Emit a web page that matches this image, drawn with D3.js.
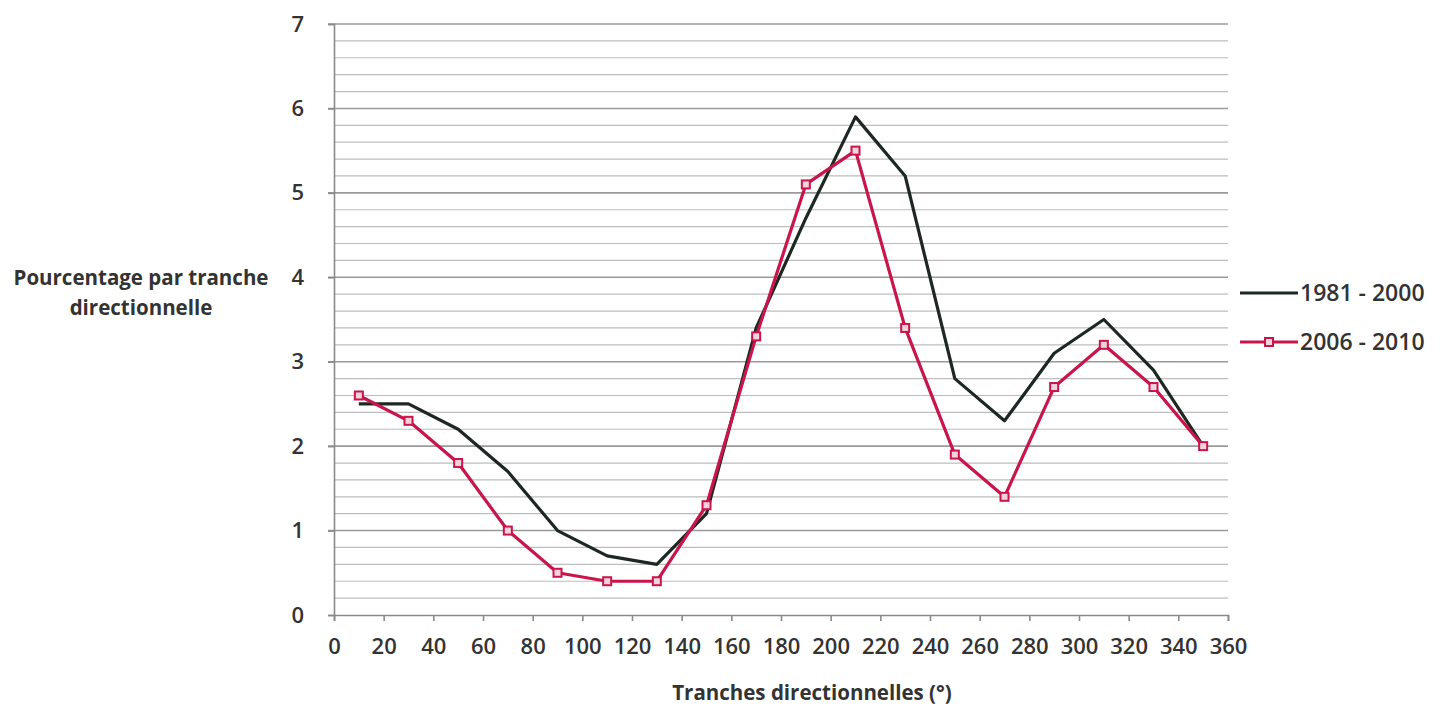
<!DOCTYPE html>
<html>
<head>
<meta charset="utf-8">
<script src="https://cdn.jsdelivr.net/npm/d3@7"></script>
<style>
  body { margin: 0; background: #fff; }
  text { font-family: "Open Sans", Lato, sans-serif; fill: #333; }
</style>
</head>
<body>
<div id="chart"></div>
<script>
// direction bins (degrees, bin centres)
var directions = [10, 30, 50, 70, 90, 110, 130, 150, 170, 190, 210, 230, 250, 270, 290, 310, 330, 350];
var period_a = [2.5, 2.5, 2.2, 1.7, 1.0, 0.7, 0.6, 1.2, 3.4, 4.7, 5.9, 5.2, 2.8, 2.3, 3.1, 3.5, 2.9, 2.0];
var period_b = [2.6, 2.3, 1.8, 1.0, 0.5, 0.4, 0.4, 1.3, 3.3, 5.1, 5.5, 3.4, 1.9, 1.4, 2.7, 3.2, 2.7, 2.0];
var series_names = ["1981 - 2000", "2006 - 2010"];
var x_ticks = d3.range(0, 361, 20);
var y_ticks = [0, 1, 2, 3, 4, 5, 6, 7];

var width = 1456, height = 706;
var margin = {left: 334, right: 228, top: 24, bottom: 91};

var svg = d3.select("#chart").append("svg")
    .attr("width", width)
    .attr("height", height);

var x = d3.scaleLinear().domain([0, 360]).range([margin.left, width - margin.right]);
var y = d3.scaleLinear().domain([0, 7]).range([height - margin.bottom, margin.top]);

// minor gridlines every 0.2
var minor = d3.range(0, 7.01, 0.2).filter(function (d) { return Math.abs(d - Math.round(d)) > 0.01; });
svg.append("g").selectAll("line")
    .data(minor)
    .enter().append("line")
    .attr("x1", x(0)).attr("x2", x(360))
    .attr("y1", function (d) { return y(d); })
    .attr("y2", function (d) { return y(d); })
    .attr("stroke", "#bdbdbd")
    .attr("stroke-width", 1.2);

// major gridlines
svg.append("g").selectAll("line")
    .data(y_ticks.slice(1))
    .enter().append("line")
    .attr("x1", x(0) - 6).attr("x2", x(360))
    .attr("y1", function (d) { return y(d); })
    .attr("y2", function (d) { return y(d); })
    .attr("stroke", "#9a9a9a")
    .attr("stroke-width", 1.6);

// y axis
var yAxis = d3.axisLeft(y).tickValues(y_ticks).tickFormat(d3.format("d")).tickSize(6).tickPadding(24);
var gy = svg.append("g")
    .attr("transform", "translate(" + x(0) + ",0)")
    .call(yAxis);
gy.select(".domain").attr("stroke", "#8a8a8a").attr("stroke-width", 1.6);
gy.selectAll(".tick line").attr("stroke", "#8a8a8a").attr("stroke-width", 1.6);
gy.selectAll("text").style("font-size", "22px").style("font-weight", "600").attr("fill", "#333");

// x axis
var xAxis = d3.axisBottom(x).tickValues(x_ticks).tickSize(6).tickPadding(17).tickSizeOuter(6);
var gx = svg.append("g")
    .attr("transform", "translate(0," + y(0) + ")")
    .call(xAxis);
gx.select(".domain").attr("stroke", "#8a8a8a").attr("stroke-width", 1.6);
gx.selectAll(".tick line").attr("stroke", "#8a8a8a").attr("stroke-width", 1.6);
gx.selectAll("text").style("font-size", "22px").style("font-weight", "600").attr("fill", "#333");

// axis titles
var ytitle = svg.append("text")
    .attr("text-anchor", "middle")
    .style("font-size", "20.5px")
    .style("font-weight", "bold");
ytitle.append("tspan").attr("x", 141).attr("y", 285).text("Pourcentage par tranche");
ytitle.append("tspan").attr("x", 141).attr("y", 315).text("directionnelle");

svg.append("text")
    .attr("x", 812).attr("y", 700)
    .attr("text-anchor", "middle")
    .style("font-size", "20.5px")
    .style("font-weight", "bold")
    .text("Tranches directionnelles (°)");

// lines
var line = d3.line()
    .x(function (d) { return x(d[0]); })
    .y(function (d) { return y(d[1]); });

var colors = ["#1e2822", "#c8154b"];

svg.append("path")
    .datum(d3.zip(directions, period_a))
    .attr("fill", "none")
    .attr("stroke", colors[0])
    .attr("stroke-width", 3.2)
    .attr("stroke-linejoin", "round")
    .attr("d", line);

svg.append("path")
    .datum(d3.zip(directions, period_b))
    .attr("fill", "none")
    .attr("stroke", colors[1])
    .attr("stroke-width", 3.2)
    .attr("stroke-linejoin", "round")
    .attr("d", line);

svg.append("g").selectAll("rect")
    .data(d3.zip(directions, period_b))
    .enter().append("rect")
    .attr("x", function (d) { return x(d[0]) - 4; })
    .attr("y", function (d) { return y(d[1]) - 4; })
    .attr("width", 8).attr("height", 8)
    .attr("fill", "#f4d3dc")
    .attr("stroke", colors[1])
    .attr("stroke-width", 2);

// legend
var legend = svg.append("g").attr("transform", "translate(1240,0)");
legend.append("line")
    .attr("x1", 0).attr("x2", 58).attr("y1", 293).attr("y2", 293)
    .attr("stroke", colors[0]).attr("stroke-width", 3.2);
legend.append("text")
    .attr("x", 60).attr("y", 301)
    .style("font-size", "23px").style("font-weight", "600")
    .text(series_names[0]);
legend.append("line")
    .attr("x1", 0).attr("x2", 58).attr("y1", 342).attr("y2", 342)
    .attr("stroke", colors[1]).attr("stroke-width", 3.2);
legend.append("rect")
    .attr("x", 25).attr("y", 338).attr("width", 8).attr("height", 8)
    .attr("fill", "#f4d3dc").attr("stroke", colors[1]).attr("stroke-width", 2);
legend.append("text")
    .attr("x", 60).attr("y", 350)
    .style("font-size", "23px").style("font-weight", "600")
    .text(series_names[1]);
</script>
</body>
</html>
